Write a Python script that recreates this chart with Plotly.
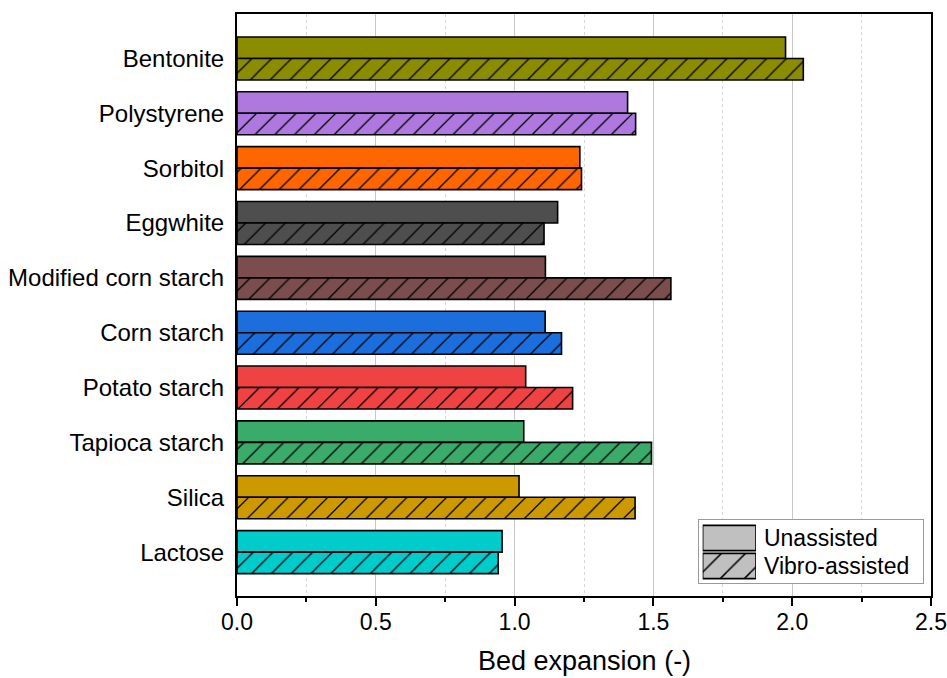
import plotly.graph_objects as go

# Materials, listed bottom-to-top on the category axis
materials = ["Lactose", "Silica", "Tapioca starch", "Potato starch", "Corn starch",
             "Modified corn starch", "Eggwhite", "Sorbitol", "Polystyrene", "Bentonite"]
unassisted = [0.955, 1.016, 1.033, 1.040, 1.110, 1.111, 1.155, 1.235, 1.407, 1.976]
vibro_assisted = [0.941, 1.434, 1.493, 1.209, 1.169, 1.563, 1.106, 1.241, 1.436, 2.040]
colors = ["#00CCCC", "#CC9900", "#3AAB6B", "#EF4242", "#1C6EDD",
          "#7B4D4D", "#4E4E4E", "#FF6600", "#AE78DF", "#8C8C00"]
series_names = ["Unassisted", "Vibro-assisted"]
x_ticks = [0.0, 0.5, 1.0, 1.5, 2.0, 2.5]
x_title = "Bed expansion (-)"

FONT = "Liberation Sans, Arial, sans-serif"
BAR_W = 0.392
SWATCH_GREY = "#C0C0C0"
outline = dict(color="black", width=1.6)


def hatch(size):
    return dict(shape="/", fillmode="overlay", fgcolor="black",
                fgopacity=1, size=size, solidity=0.09)


fig = go.Figure()

# One pair of bars per material: unassisted just above the category centre,
# vibro-assisted (hatched) just below
for name, u, v, c in zip(materials, unassisted, vibro_assisted, colors):
    fig.add_trace(go.Bar(
        y=[name], x=[u], orientation="h", width=BAR_W, offset=0,
        marker=dict(color=c, line=outline), name=series_names[0],
    ))
    fig.add_trace(go.Bar(
        y=[name], x=[v], orientation="h", width=BAR_W, offset=-BAR_W,
        marker=dict(color=c, line=outline, pattern=hatch(14)),
        name=series_names[1],
    ))

# Legend: a framed inset panel (x2/y2) holding grey swatch bars (x3/y3)
fig.add_trace(go.Scatter(x=[None], y=[None], xaxis="x2", yaxis="y2",
                         hoverinfo="skip"))
for name, shape in zip(series_names, ["", "/"]):
    pat = hatch(17)
    pat["shape"] = shape
    fig.add_trace(go.Bar(
        y=[name], x=[1], orientation="h", width=0.9,
        xaxis="x3", yaxis="y3", cliponaxis=False,
        marker=dict(color=SWATCH_GREY, line=outline, pattern=pat),
    ))

fig.update_layout(
    width=947, height=678,
    margin=dict(l=237, r=16, t=14, b=82),
    barmode="overlay",
    plot_bgcolor="white", paper_bgcolor="white",
    font=dict(family=FONT, size=23, color="black"),
    showlegend=False,
    xaxis=dict(
        range=[0, 2.5], tickvals=x_ticks, ticktext=[f"{v:.1f}" for v in x_ticks],
        showline=True, linecolor="black", linewidth=2, mirror=True,
        ticks="outside", ticklen=8, tickwidth=2, tickcolor="black",
        showgrid=True, gridcolor="#C8C8C8", gridwidth=1,
        minor=dict(dtick=0.25, tick0=0, ticks="outside", ticklen=4, tickwidth=2,
                   tickcolor="black", showgrid=True, gridcolor="#D6D6D6",
                   griddash="dot", gridwidth=1),
        zeroline=False, automargin=False, ticklabelstandoff=-4,
        tickfont=dict(size=23),
    ),
    yaxis=dict(
        type="category", categoryorder="array", categoryarray=materials,
        range=[-0.8, 9.81],
        showline=True, linecolor="black", linewidth=2, mirror=True,
        ticks="", showgrid=False, zeroline=False, automargin=False,
        tickfont=dict(size=24), ticklabelstandoff=6,
    ),
    # legend frame
    xaxis2=dict(domain=[0.6657, 0.988], anchor="y2", range=[0, 1],
                showline=True, mirror=True, linecolor="#9A9A9A", linewidth=1,
                showgrid=False, zeroline=False, showticklabels=False, ticks="",
                fixedrange=True),
    yaxis2=dict(domain=[0.0223, 0.1306], anchor="x2", range=[0, 1],
                showline=True, mirror=True, linecolor="#9A9A9A", linewidth=1,
                showgrid=False, zeroline=False, showticklabels=False, ticks="",
                fixedrange=True),
    # legend swatches with series names as right-hand labels
    xaxis3=dict(domain=[0.6710, 0.7478], anchor="y3", range=[0, 1],
                visible=False, fixedrange=True),
    yaxis3=dict(domain=[0.0275, 0.1237], anchor="x3", type="category",
                categoryorder="array", categoryarray=series_names,
                tickmode="array", tickvals=series_names, ticktext=series_names,
                range=[1.5, -0.5], side="right", showline=False, showgrid=False,
                zeroline=False, ticks="", ticklabelstandoff=7,
                tickfont=dict(size=23), automargin=False, fixedrange=True),
    # x-axis title, placed low in the bottom margin
    annotations=[dict(
        text=x_title, xref="paper", yref="paper", x=0.5, y=0,
        xanchor="center", yanchor="top", yshift=-48, showarrow=False,
        font=dict(family=FONT, size=27, color="black"),
    )],
)

fig.write_html("out.html")
